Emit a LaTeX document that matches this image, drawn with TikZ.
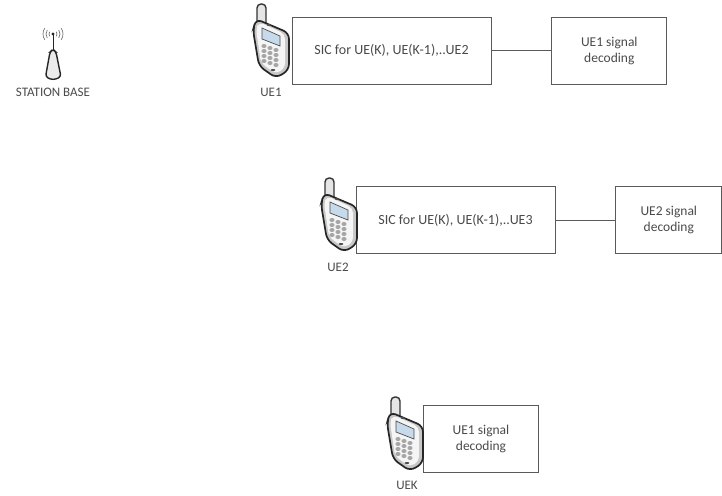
\documentclass[tikz,border=0pt]{standalone}
\usepackage{fontspec}
\setmainfont{Carlito}
\usetikzlibrary{positioning}
\definecolor{edgegray}{HTML}{5A5A5A}
\definecolor{textgray}{HTML}{4A4A4A}
\definecolor{screenblue}{HTML}{C6DAEC}
\tikzset{
  phone/.pic={
    % antenna
    \draw[black!80, line width=1.4pt, fill=black!10, rounded corners=4pt] (4,-22) -- (4,0) -- (13,0) -- (13,-24);
    % body
    \draw[black!85, line width=1.7pt, fill=black!22, rounded corners=6pt]
      (0,-26) -- (3,-15) -- (36,-29) -- (36,-66) -- (23,-74) -- (6,-62) -- cycle;
    \fill[black!4, rounded corners=5pt] (3,-25) -- (6,-18) -- (32,-30) -- (32,-64) -- (23,-70) -- (8,-59) -- cycle;
    % screen
    \draw[black!70, fill=screenblue, line width=.7pt] (9,-24) -- (27,-32) -- (27,-42) -- (9,-35) -- cycle;
    \fill[black!70] (16,-21) ellipse (2.2pt and 1pt);
    % keys
    \foreach \kx in {0,1,2}
      \foreach \ky in {0,1,2,3}
        \fill[black!35] (11+\kx*6,-42+\kx*-2+\ky*-5) ellipse (2.6pt and 2pt);
    \fill[black!70] (20,-66) ellipse (2.4pt and 1pt);
  },
  mast/.pic={
    \draw[black!85, line width=1pt] (8,-20) -- (8,-4);
    \draw[black!85, line width=1.4pt, fill=black!8, rounded corners=3pt] (0.5,-47) -- (5,-22) -- (8,-19) -- (11,-22) -- (16,-47) -- (8,-50) -- cycle;
    \fill[black!85] (8,-4) circle (1.7pt);
    \foreach \wr in {4,7,10} {
      \draw[black!55, line width=.7pt] ([shift={(215:\wr pt)}]8,-4) arc[start angle=215, end angle=145, radius=\wr pt];
      \draw[black!55, line width=.7pt] ([shift={(-35:\wr pt)}]8,-4) arc[start angle=-35, end angle=35, radius=\wr pt];
    }
  }
}
\begin{document}
\begin{tikzpicture}[
  x=1pt, y=1pt,
  font=\fontsize{13.5}{16}\selectfont,
  box/.style={draw=edgegray, line width=.8pt, align=center, inner sep=0pt, text=textgray, minimum height=67pt},
  sicbox/.style={box, minimum width=199pt, font=\fontsize{14}{16}\selectfont},
  decbox/.style={box, minimum width=115pt},
  lbl/.style={text=textgray, inner sep=0pt, font=\fontsize{13}{16}\selectfont},
  link/.style={draw=edgegray, line width=.8pt}
]
\useasboundingbox (0,0) rectangle (722,-495);
\node[sicbox] (sic1) at (391.5,-50.5) {SIC for UE(K), UE(K-1),..UE2};
\node[decbox, right=60pt of sic1] (dec1) {UE1 signal\\decoding};
\draw[link] (sic1) -- (dec1);
\node[sicbox] (sic2) at (455.5,-220) {SIC for UE(K), UE(K-1),..UE3};
\node[box, minimum width=106pt, right=60pt of sic2] (dec2) {UE2 signal\\decoding};
\draw[link] (sic2) -- (dec2);
\node[decbox] (deck) at (481,-439) {UE1 signal\\decoding};
% phones and base station
\pic (ph1) at (253,-4) {phone};
\pic (ph2) at (321,-178) {phone};
\pic (phk) at (387,-397) {phone};
\pic (base) at (45,-30) {mast};
\node[lbl] (ue1) at (271,-92) {UE1};
\node[lbl] (ue2) at (338,-267) {UE2};
\node[lbl] (uek) at (407,-485) {UEK};
\node[lbl] (bs) at (53,-92) {STATION BASE};
\end{tikzpicture}
\end{document}
